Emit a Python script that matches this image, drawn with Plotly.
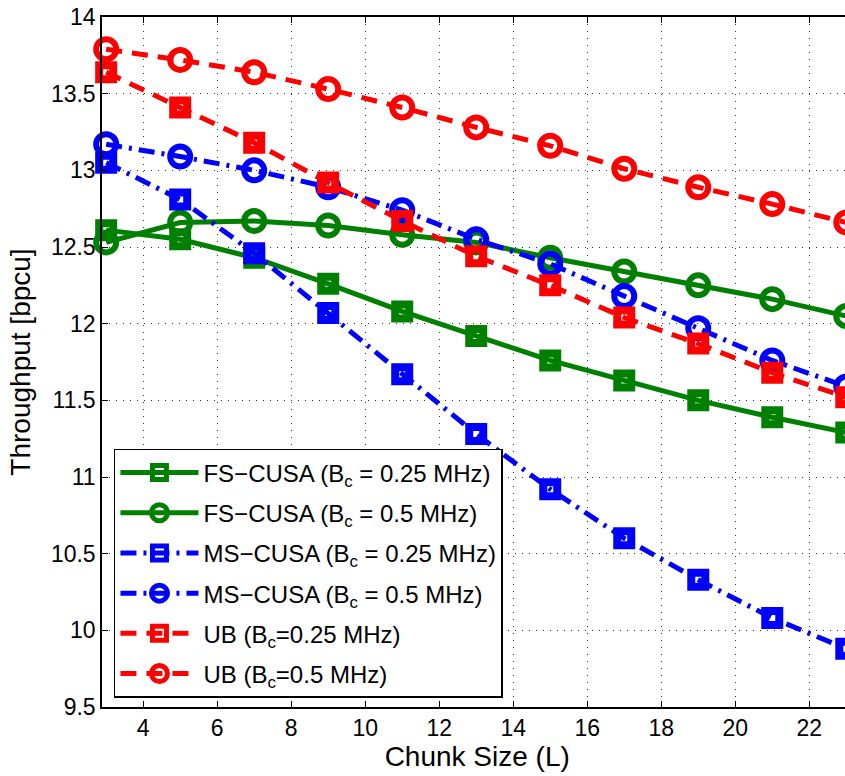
import plotly.graph_objects as go

# Chunk sizes (x axis)
chunk_size = [3, 5, 7, 9, 11, 13, 15, 17, 19, 21, 23]

# Throughput [bpcu] per scheme and coherence bandwidth
fs_cusa_025 = [12.61, 12.55, 12.43, 12.26, 12.08, 11.92, 11.76, 11.63, 11.50, 11.39, 11.29]
fs_cusa_05 = [12.53, 12.66, 12.67, 12.64, 12.58, 12.53, 12.43, 12.34, 12.25, 12.16, 12.05]
ms_cusa_025 = [13.05, 12.81, 12.46, 12.07, 11.67, 11.28, 10.92, 10.60, 10.33, 10.08, 9.88]
ms_cusa_05 = [13.17, 13.09, 13.00, 12.89, 12.74, 12.55, 12.39, 12.18, 11.97, 11.76, 11.59]
ub_025 = [13.64, 13.41, 13.18, 12.92, 12.67, 12.44, 12.25, 12.04, 11.87, 11.68, 11.52]
ub_05 = [13.79, 13.72, 13.64, 13.53, 13.41, 13.28, 13.16, 13.01, 12.89, 12.78, 12.66]

x_ticks = [4, 6, 8, 10, 12, 14, 16, 18, 20, 22]
y_ticks = [9.5, 10, 10.5, 11, 11.5, 12, 12.5, 13, 13.5, 14]
y_tick_text = ["9.5", "10", "10.5", "11", "11.5", "12", "12.5", "13", "13.5", "14"]

GREEN = "#008000"
BLUE = "#0000FF"
RED = "#FF0000"
FONT = "Liberation Sans, Arial, Helvetica, sans-serif"

series = [
    ("FS−CUSA (B<sub>c</sub> = 0.25 MHz)", fs_cusa_025, GREEN, "solid", "square-open"),
    ("FS−CUSA (B<sub>c</sub> = 0.5 MHz)", fs_cusa_05, GREEN, "solid", "circle-open"),
    ("MS−CUSA (B<sub>c</sub> = 0.25 MHz)", ms_cusa_025, BLUE, "16px,7px,3px,7px", "square-open"),
    ("MS−CUSA (B<sub>c</sub> = 0.5 MHz)", ms_cusa_05, BLUE, "16px,7px,3px,7px", "circle-open"),
    ("UB (B<sub>c</sub>=0.25 MHz)", ub_025, RED, "16px,10px", "square-open"),
    ("UB (B<sub>c</sub>=0.5 MHz)", ub_05, RED, "16px,10px", "circle-open"),
]

fig = go.Figure()
for i, (name, y, color, dash, symbol) in enumerate(series):
    is_square = symbol.startswith("square")
    fig.add_trace(go.Scatter(
        x=chunk_size, y=y, name=name, mode="lines+markers",
        legendgroup=f"g{i}",
        line=dict(color=color, width=5, dash=dash),
        marker=dict(symbol=symbol, size=14 if is_square else 20, color=color,
                    line=dict(color=color, width=8 if is_square else 6)),
        cliponaxis=False,
    ))

# The axes run on past the right edge of the visible page, so the last
# column of markers is only partly shown.
fig.update_layout(
    width=870, height=776,
    margin=dict(l=102, r=0, t=17, b=69),
    paper_bgcolor="white", plot_bgcolor="white",
    font=dict(family=FONT, size=23, color="black"),
    showlegend=True,
    legend=dict(
        x=0.0156, y=0.374, xanchor="left", yanchor="top",
        bgcolor="white", bordercolor="black", borderwidth=1.5,
        font=dict(family=FONT, size=24, color="black"),
        itemwidth=78, itemsizing="trace", tracegroupgap=6,
        traceorder="grouped",
    ),
    xaxis=dict(
        range=[2.887, 23.587], tickvals=x_ticks,
        showline=True, linecolor="black", linewidth=1.5, mirror="ticks",
        ticks="inside", ticklen=6, tickwidth=1, tickcolor="black",
        showgrid=True, gridcolor="#333333", gridwidth=1, griddash="1px,6px",
        zeroline=False,
        tickfont=dict(family=FONT, size=23),
        title=dict(text="Chunk Size (L)&nbsp;&nbsp;", font=dict(family=FONT, size=28), standoff=5),
    ),
    yaxis=dict(
        range=[9.5, 14], tickvals=y_ticks, ticktext=y_tick_text,
        showline=True, linecolor="black", linewidth=1.5, mirror="ticks",
        ticks="inside", ticklen=6, tickwidth=1, tickcolor="black",
        showgrid=True, gridcolor="#333333", gridwidth=1, griddash="1px,6px",
        zeroline=False,
        tickfont=dict(family=FONT, size=23),
        title=dict(text="Throughput [bpcu]", font=dict(family=FONT, size=28), standoff=12),
    ),
)

fig.write_html(
    "out.html",
    post_script="document.documentElement.style.overflow='hidden';"
                "document.body.style.overflow='hidden';",
)
